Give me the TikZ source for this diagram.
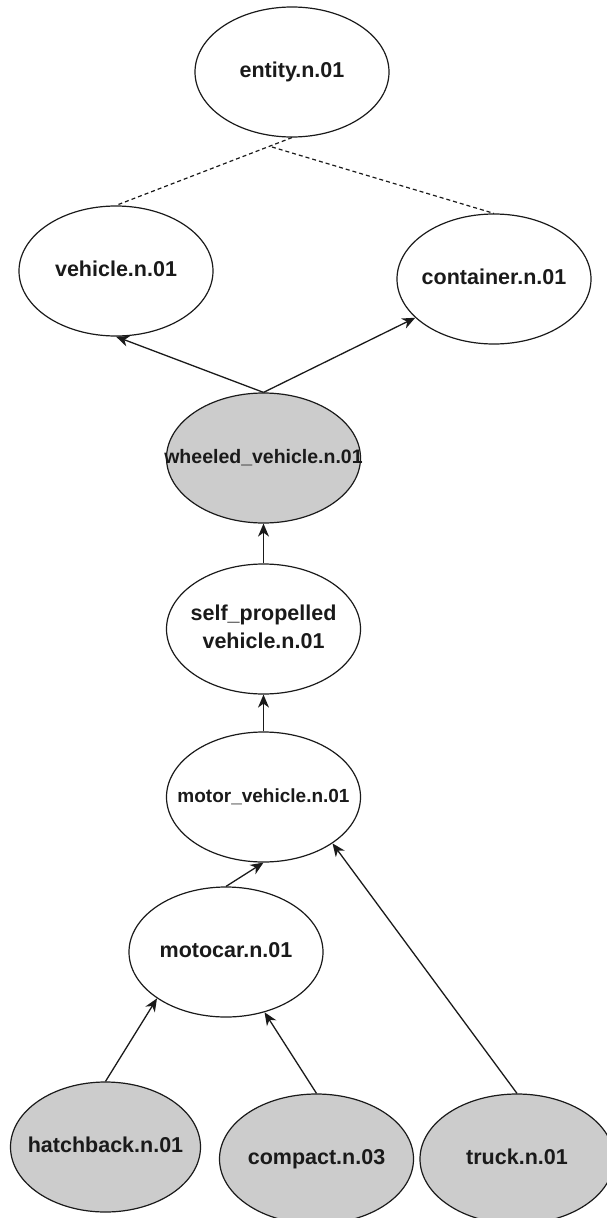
\documentclass[tikz,border=0pt]{standalone}
\usepackage{fontspec}
\setmainfont{Liberation Sans}
\usetikzlibrary{shapes.geometric,arrows.meta}
\definecolor{synsetgray}{HTML}{CCCCCC}
\definecolor{inkline}{HTML}{1A1A1A}
% label of zero width, so the ellipse keeps its own size
\newcommand{\synlabel}[2][21.5]{\makebox[0pt]{\raisebox{-7pt}{\fontsize{#1}{28}\selectfont\bfseries\begin{tabular}{@{}c@{}}#2\end{tabular}}}}
\begin{document}
\begin{tikzpicture}[x=1pt,y=-1pt,
  syn/.style={ellipse,draw=inkline,line width=1.2pt,minimum width=194pt,minimum height=130pt,inner sep=0pt,text=inkline},
  leaf/.style={syn,fill=synsetgray},
  isa/.style={draw=inkline,line width=1.3pt,-{Stealth[length=13pt,width=11pt,inset=4pt]}},
  sim/.style={draw=inkline,line width=1.2pt,dash pattern=on 4pt off 3pt}]
\useasboundingbox (0,0) rectangle (606,1218);

% synsets
\node[syn]  (ent) at (292,72)     {\synlabel{entity.n.01}};
\node[syn]  (veh) at (116,271)    {\synlabel{vehicle.n.01}};
\node[syn]  (con) at (494,279)    {\synlabel{container.n.01}};
\node[leaf] (whl) at (263.5,458)  {\synlabel[19.5]{wheeled\_vehicle.n.01}};
\node[syn]  (spv) at (263.5,629)  {\synlabel{self\_propelled\\vehicle.n.01}};
\node[syn]  (mv)  at (263.5,797)  {\synlabel[19]{motor\_vehicle.n.01}};
\node[syn]  (mc)  at (226,952)    {\synlabel{motocar.n.01}};
\node[leaf,minimum width=190pt] (hb) at (105.5,1147) {\synlabel{hatchback.n.01}};
\node[leaf] (cp)  at (316.5,1159) {\synlabel{compact.n.03}};
\node[leaf] (tr)  at (517,1159)   {\synlabel{truck.n.01}};

% dashed links under entity
\coordinate (fork) at (272,147);
\draw[sim] (ent.south) -- (veh.north);
\draw[sim] (fork) -- (con.north);

% hypernym arrows
\draw[isa] (whl.north) -- (veh.south);
\draw[isa] (whl.north) -- (con);
\draw[isa] (spv.north) -- (whl.south);
\draw[isa] (mv.north) -- (spv.south);
\draw[isa] (mc.north) -- (mv.south);
\draw[isa] (hb.north) -- (mc.south west);
\draw[isa] (cp.north) -- (mc);
\draw[isa] (tr.north) -- (mv.south east);
\end{tikzpicture}
\end{document}
